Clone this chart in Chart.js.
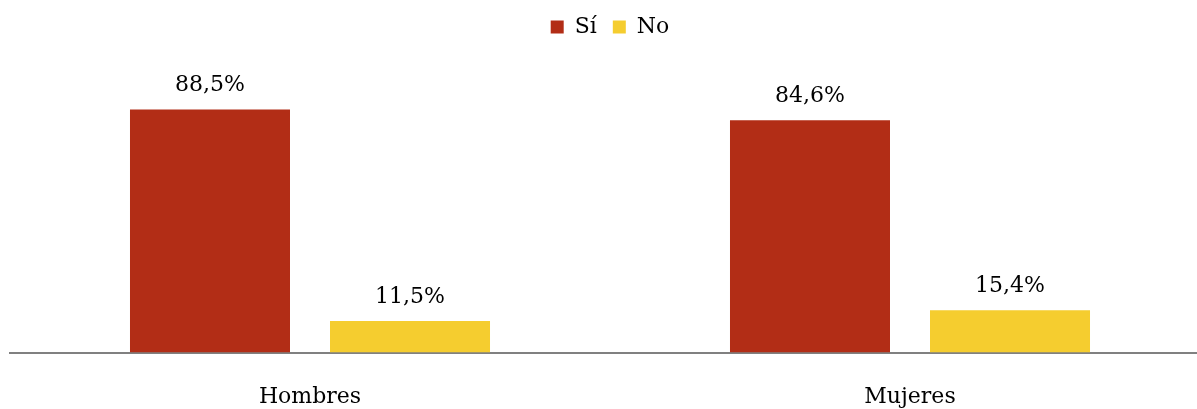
<!DOCTYPE html>
<html>
<head>
<meta charset="utf-8">
<script src="https://cdn.jsdelivr.net/npm/chart.js@4"></script>
<style>
  html, body { margin: 0; padding: 0; overflow: hidden; background: #fff; }
  #wrap { width: 1220px; height: 433px; }
</style>
</head>
<body>
<div id="wrap"><canvas id="grafico"></canvas></div>
<script>
var categorias = ['Hombres', 'Mujeres'];
var valoresSi = [88.5, 84.6];
var valoresNo = [11.5, 15.4];
var etiquetasSerie = ['Sí', 'No'];

var fuente = "'DejaVu Serif', 'Liberation Serif', serif";

// etiquetas encima de cada barra
var etiquetasBarras = {
    id: 'etiquetasBarras',
    afterDatasetsDraw: function (chart) {
        var ctx = chart.ctx;
        ctx.save();
        ctx.font = '22px ' + fuente;
        ctx.fillStyle = '#000';
        ctx.textAlign = 'center';
        ctx.textBaseline = 'bottom';
        chart.data.datasets.forEach(function (ds, i) {
            chart.getDatasetMeta(i).data.forEach(function (bar, j) {
                var txt = ds.data[j].toFixed(1).replace('.', ',') + '%';
                ctx.fillText(txt, bar.x, bar.y - 13);
            });
        });
        ctx.restore();
    }
};

var ctx = document.getElementById('grafico').getContext('2d');
var chart = new Chart(ctx, {
    type: 'bar',
    data: {
        labels: categorias,
        datasets: [{
            label: etiquetasSerie[0],
            backgroundColor: '#B22D16',
            data: valoresSi
        }, {
            label: etiquetasSerie[1],
            backgroundColor: '#F5CD2F',
            data: valoresNo
        }]
    },
    options: {
        responsive: true,
        maintainAspectRatio: false,
        animation: false,
        layout: { padding: { left: 10, right: 10, top: 0 } },
        datasets: {
            bar: { categoryPercentage: 0.6667, barPercentage: 0.8 }
        },
        plugins: {
            legend: {
                position: 'top',
                labels: {
                    boxWidth: 13,
                    boxHeight: 13,
                    color: '#000',
                    font: { family: fuente, size: 22 },
                    padding: 16
                }
            },
            tooltip: { enabled: false }
        },
        scales: {
            x: {
                grid: { display: false },
                border: { display: true, color: '#808080', width: 2 },
                ticks: {
                    color: '#000',
                    font: { family: fuente, size: 22 },
                    padding: 23
                }
            },
            y: {
                display: false,
                min: 0,
                max: 110.9
            }
        }
    },
    plugins: [etiquetasBarras]
});
</script>
</body>
</html>
